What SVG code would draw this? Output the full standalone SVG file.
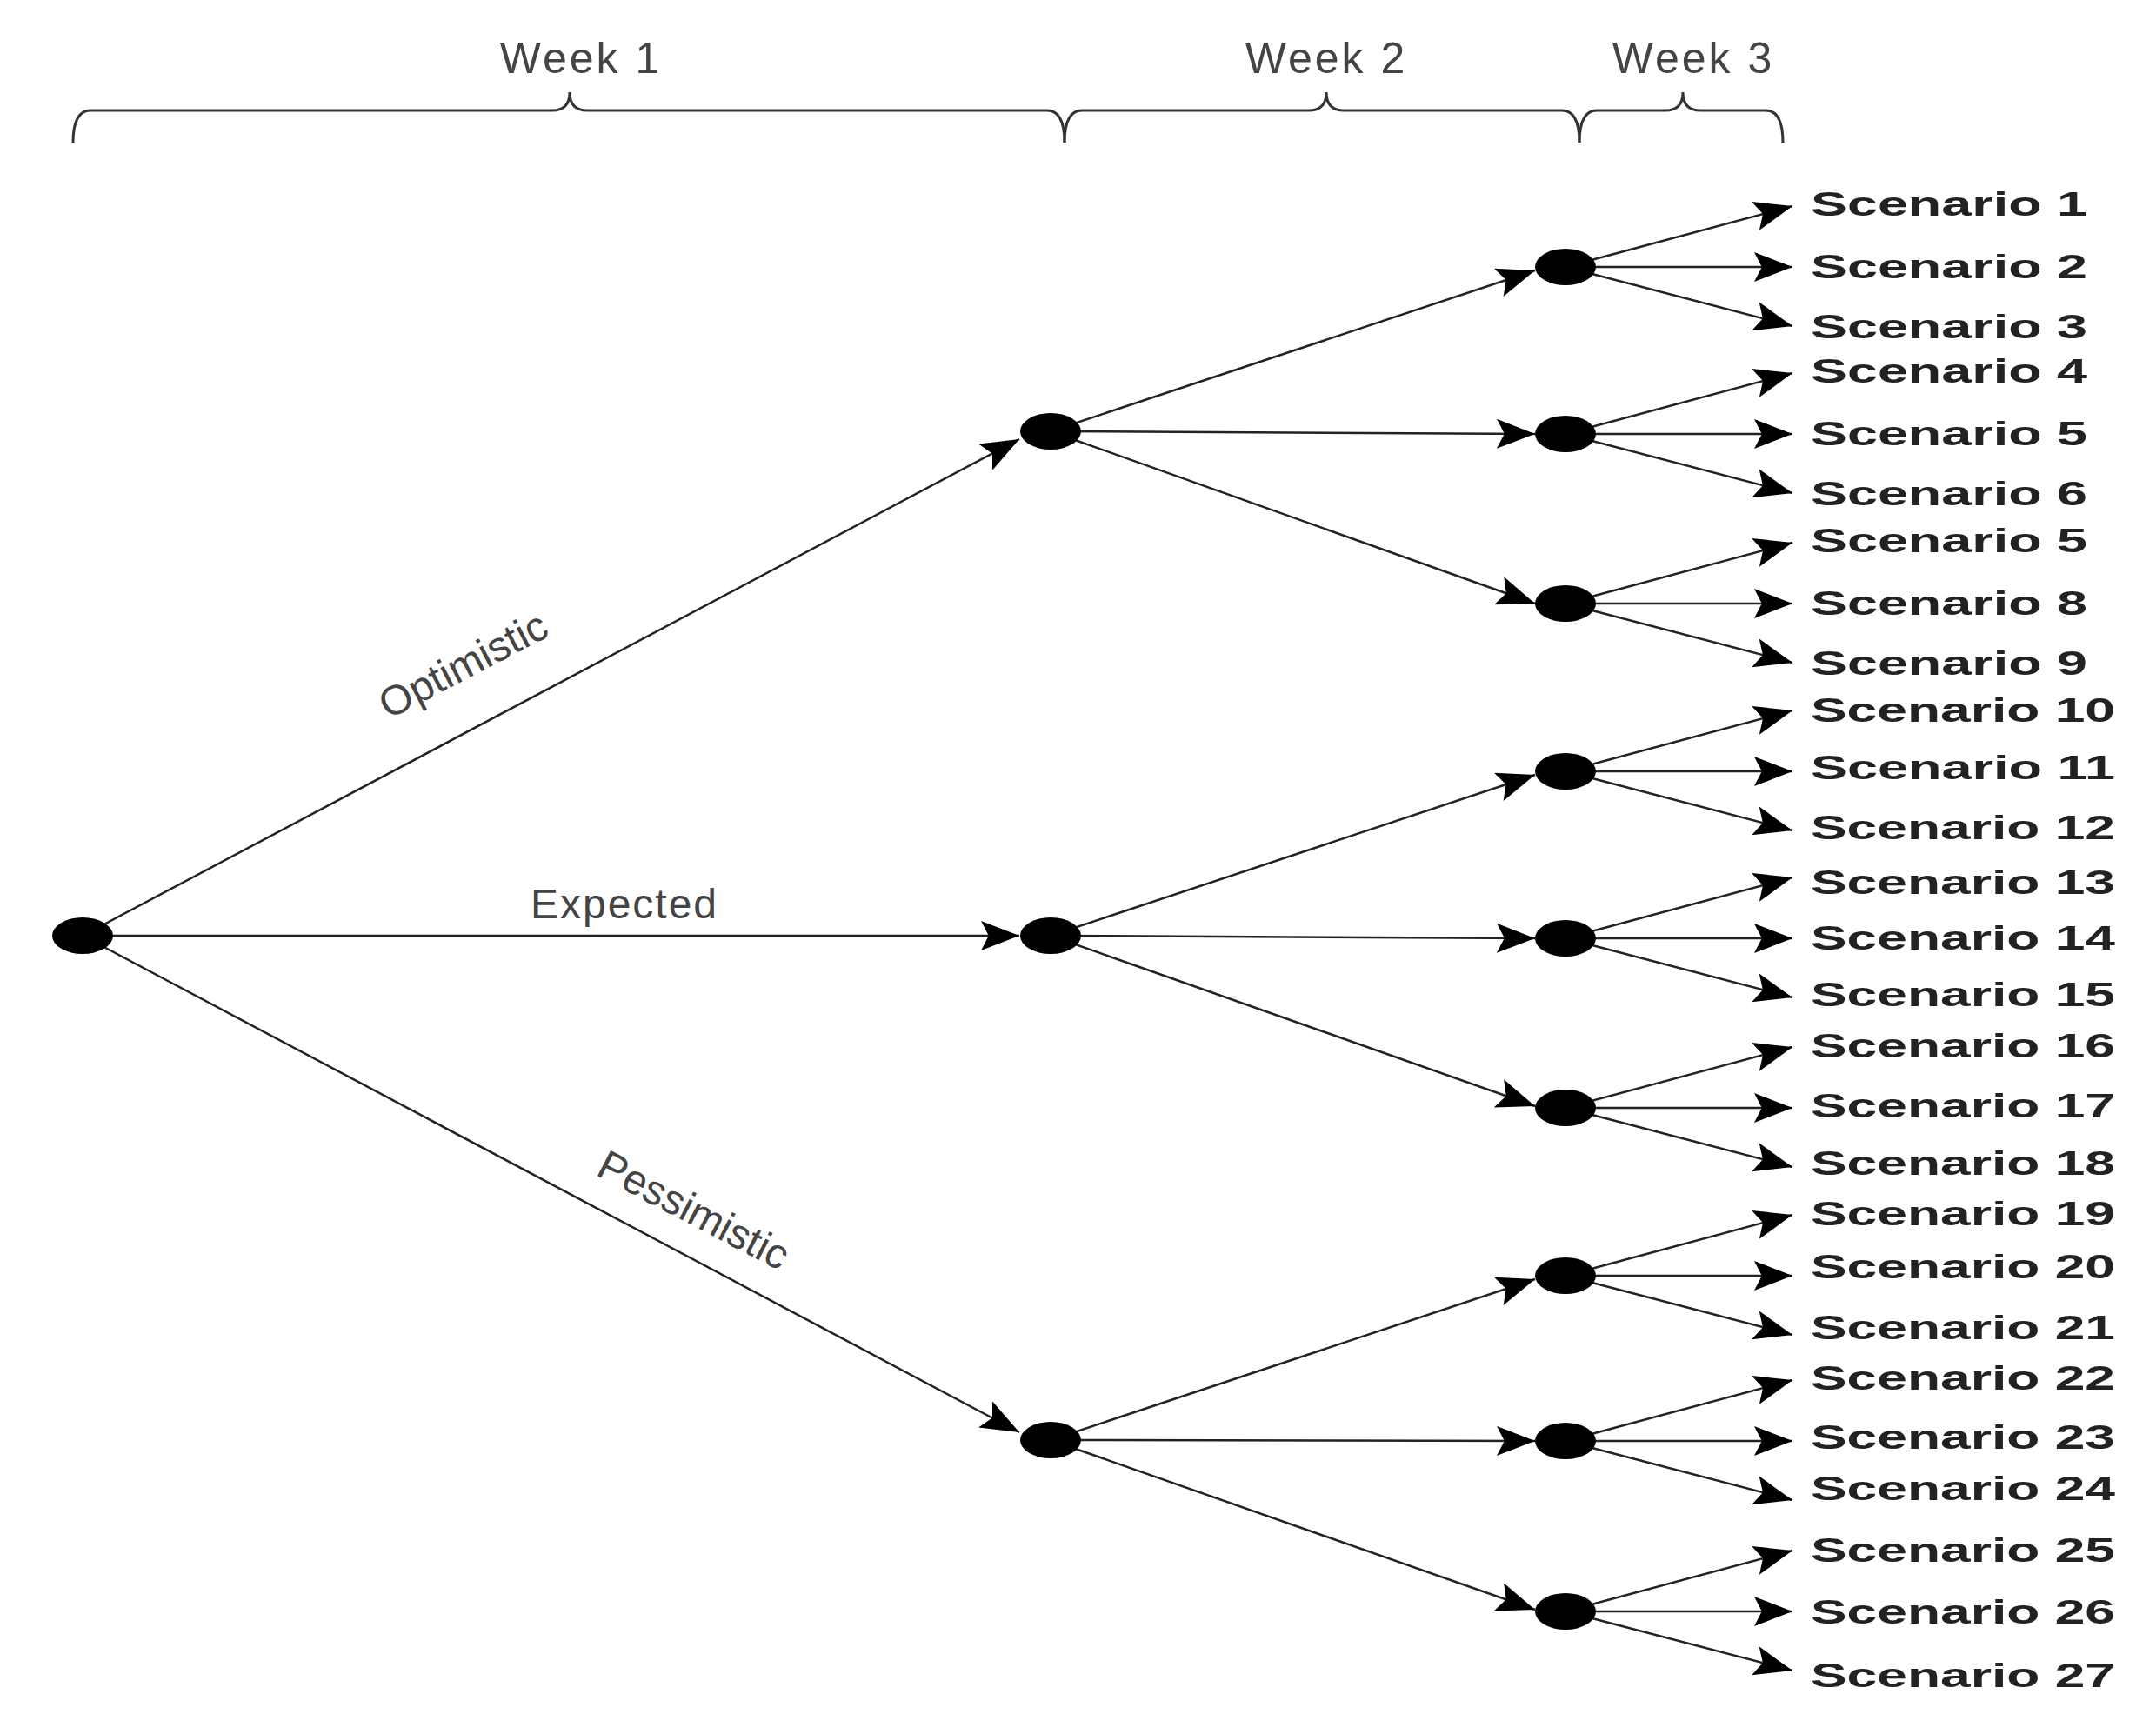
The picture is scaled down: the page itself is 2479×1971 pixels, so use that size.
<svg xmlns="http://www.w3.org/2000/svg" width="2479" height="1971" viewBox="0 0 2479 1971">
<defs>
<marker id="ah" viewBox="0 0 10 10" refX="10" refY="5" markerWidth="44" markerHeight="34" markerUnits="userSpaceOnUse" orient="auto" preserveAspectRatio="none"><path d="M0,0 L10,5 L0,10 L2,5 z" fill="#000"/></marker>
<style>
.e{stroke:#222;stroke-width:2.5;fill:none;marker-end:url(#ah)}
.n{fill:#000}
.s{font-family:"Liberation Sans",Arial,sans-serif;font-size:38px;font-weight:bold;fill:#222}
.w{font-family:"Liberation Sans",Arial,sans-serif;font-size:50px;fill:#444;letter-spacing:3px}
.l{font-family:"Liberation Sans",Arial,sans-serif;font-size:48px;fill:#444}
.b{stroke:#333;stroke-width:3;fill:none}
</style>
</defs>
<rect width="2479" height="1971" fill="#fff"/>
<g id="braces">
<path class="b" d="M84,164 Q84,127 104,127 L635,127 Q655,127 655,106 Q655,127 675,127 L1204,127 Q1224,127 1224,164"/>
<path class="b" d="M1224,164 Q1224,127 1244,127 L1505,127 Q1525,127 1525,106 Q1525,127 1545,127 L1796,127 Q1816,127 1816,164"/>
<path class="b" d="M1816,164 Q1816,127 1836,127 L1915,127 Q1935,127 1935,106 Q1935,127 1955,127 L2030,127 Q2050,127 2050,164"/>
<text class="w" x="668" y="84" text-anchor="middle">Week 1</text>
<text class="w" x="1525" y="84" text-anchor="middle">Week 2</text>
<text class="w" x="1947" y="84" text-anchor="middle">Week 3</text>
</g>
<g id="connectors">
<line class="e" x1="95" y1="1076" x2="1172" y2="505"/>
<line class="e" x1="95" y1="1076" x2="1172" y2="1076"/>
<line class="e" x1="95" y1="1076" x2="1172" y2="1647"/>
<line class="e" x1="1208" y1="496" x2="1765" y2="311"/>
<line class="e" x1="1208" y1="496" x2="1765" y2="499"/>
<line class="e" x1="1208" y1="496" x2="1765" y2="694"/>
<line class="e" x1="1208" y1="1076" x2="1765" y2="891"/>
<line class="e" x1="1208" y1="1076" x2="1765" y2="1079"/>
<line class="e" x1="1208" y1="1076" x2="1765" y2="1272"/>
<line class="e" x1="1208" y1="1656" x2="1765" y2="1471"/>
<line class="e" x1="1208" y1="1656" x2="1765" y2="1657"/>
<line class="e" x1="1208" y1="1656" x2="1765" y2="1851"/>
<path class="e" d="M1800,307 L2061,237"/><path class="e" d="M1800,307 L2061,307"/><path class="e" d="M1800,307 L2061,375"/>
<path class="e" d="M1800,499 L2061,429"/><path class="e" d="M1800,499 L2061,499"/><path class="e" d="M1800,499 L2061,567"/>
<path class="e" d="M1800,694 L2061,624"/><path class="e" d="M1800,694 L2061,694"/><path class="e" d="M1800,694 L2061,762"/>
<path class="e" d="M1800,887 L2061,817"/><path class="e" d="M1800,887 L2061,887"/><path class="e" d="M1800,887 L2061,955"/>
<path class="e" d="M1800,1079 L2061,1009"/><path class="e" d="M1800,1079 L2061,1079"/><path class="e" d="M1800,1079 L2061,1147"/>
<path class="e" d="M1800,1274 L2061,1204"/><path class="e" d="M1800,1274 L2061,1274"/><path class="e" d="M1800,1274 L2061,1342"/>
<path class="e" d="M1800,1467 L2061,1397"/><path class="e" d="M1800,1467 L2061,1467"/><path class="e" d="M1800,1467 L2061,1535"/>
<path class="e" d="M1800,1657 L2061,1587"/><path class="e" d="M1800,1657 L2061,1657"/><path class="e" d="M1800,1657 L2061,1725"/>
<path class="e" d="M1800,1853 L2061,1783"/><path class="e" d="M1800,1853 L2061,1853"/><path class="e" d="M1800,1853 L2061,1921"/>
</g>
<g id="edge-labels">
<text class="l" x="540" y="779" text-anchor="middle" transform="rotate(-27.5 540 779)">Optimistic</text>
<text class="l" x="718" y="1056" text-anchor="middle" letter-spacing="2">Expected</text>
<text class="l" x="790" y="1406" text-anchor="middle" transform="rotate(27.5 790 1406)">Pessimistic</text>
</g>
<g id="root"><ellipse class="n" cx="95" cy="1076" rx="35" ry="21"/></g>
<g id="w2"><ellipse class="n" cx="1208" cy="496" rx="35" ry="21"/><ellipse class="n" cx="1208" cy="1076" rx="35" ry="21"/><ellipse class="n" cx="1208" cy="1656" rx="35" ry="21"/></g>
<g id="w3">
<ellipse class="n" cx="1800" cy="307" rx="35" ry="21"/><ellipse class="n" cx="1800" cy="499" rx="35" ry="21"/><ellipse class="n" cx="1800" cy="694" rx="35" ry="21"/>
<ellipse class="n" cx="1800" cy="887" rx="35" ry="21"/><ellipse class="n" cx="1800" cy="1079" rx="35" ry="21"/><ellipse class="n" cx="1800" cy="1274" rx="35" ry="21"/>
<ellipse class="n" cx="1800" cy="1467" rx="35" ry="21"/><ellipse class="n" cx="1800" cy="1657" rx="35" ry="21"/><ellipse class="n" cx="1800" cy="1853" rx="35" ry="21"/>
</g>
<g id="scenarios">
<text class="s" x="2082" y="248" textLength="318" lengthAdjust="spacingAndGlyphs">Scenario 1</text><text class="s" x="2082" y="320" textLength="318" lengthAdjust="spacingAndGlyphs">Scenario 2</text><text class="s" x="2082" y="389" textLength="318" lengthAdjust="spacingAndGlyphs">Scenario 3</text>
<text class="s" x="2082" y="440" textLength="318" lengthAdjust="spacingAndGlyphs">Scenario 4</text><text class="s" x="2082" y="512" textLength="318" lengthAdjust="spacingAndGlyphs">Scenario 5</text><text class="s" x="2082" y="581" textLength="318" lengthAdjust="spacingAndGlyphs">Scenario 6</text>
<text class="s" x="2082" y="635" textLength="318" lengthAdjust="spacingAndGlyphs">Scenario 5</text><text class="s" x="2082" y="707" textLength="318" lengthAdjust="spacingAndGlyphs">Scenario 8</text><text class="s" x="2082" y="776" textLength="318" lengthAdjust="spacingAndGlyphs">Scenario 9</text>
<text class="s" x="2082" y="830" textLength="350" lengthAdjust="spacingAndGlyphs">Scenario 10</text><text class="s" x="2082" y="896" textLength="350" lengthAdjust="spacingAndGlyphs">Scenario 11</text><text class="s" x="2082" y="965" textLength="350" lengthAdjust="spacingAndGlyphs">Scenario 12</text>
<text class="s" x="2082" y="1028" textLength="350" lengthAdjust="spacingAndGlyphs">Scenario 13</text><text class="s" x="2082" y="1092" textLength="350" lengthAdjust="spacingAndGlyphs">Scenario 14</text><text class="s" x="2082" y="1157" textLength="350" lengthAdjust="spacingAndGlyphs">Scenario 15</text>
<text class="s" x="2082" y="1216" textLength="350" lengthAdjust="spacingAndGlyphs">Scenario 16</text><text class="s" x="2082" y="1285" textLength="350" lengthAdjust="spacingAndGlyphs">Scenario 17</text><text class="s" x="2082" y="1351" textLength="350" lengthAdjust="spacingAndGlyphs">Scenario 18</text>
<text class="s" x="2082" y="1409" textLength="350" lengthAdjust="spacingAndGlyphs">Scenario 19</text><text class="s" x="2082" y="1470" textLength="350" lengthAdjust="spacingAndGlyphs">Scenario 20</text><text class="s" x="2082" y="1540" textLength="350" lengthAdjust="spacingAndGlyphs">Scenario 21</text>
<text class="s" x="2082" y="1598" textLength="350" lengthAdjust="spacingAndGlyphs">Scenario 22</text><text class="s" x="2082" y="1666" textLength="350" lengthAdjust="spacingAndGlyphs">Scenario 23</text><text class="s" x="2082" y="1725" textLength="350" lengthAdjust="spacingAndGlyphs">Scenario 24</text>
<text class="s" x="2082" y="1796" textLength="350" lengthAdjust="spacingAndGlyphs">Scenario 25</text><text class="s" x="2082" y="1867" textLength="350" lengthAdjust="spacingAndGlyphs">Scenario 26</text><text class="s" x="2082" y="1940" textLength="350" lengthAdjust="spacingAndGlyphs">Scenario 27</text>
</g>
</svg>
